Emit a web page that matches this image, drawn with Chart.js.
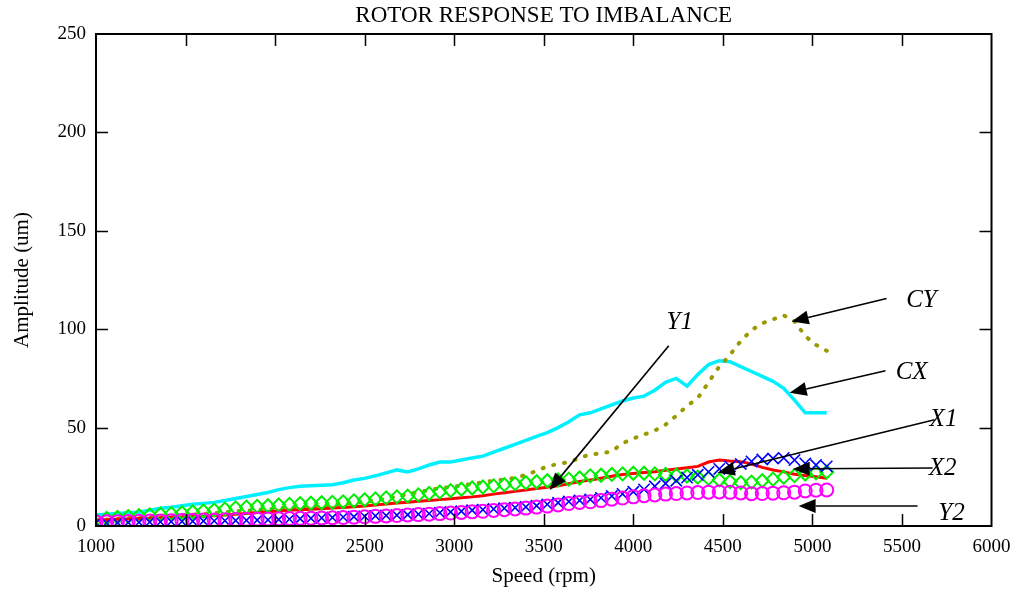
<!DOCTYPE html>
<html>
<head>
<meta charset="utf-8">
<script src="https://cdn.jsdelivr.net/npm/chart.js@4.4.1/dist/chart.umd.min.js"></script>
<style>
html,body{margin:0;padding:0;background:#fff;}
#wrap{width:1020px;height:597px;position:relative;}
</style>
</head>
<body>
<div id="wrap"><canvas id="c" width="1020" height="597"></canvas></div>
<script>
const chartTitle = 'ROTOR RESPONSE TO IMBALANCE';
const xTitle = 'Speed (rpm)';
const yTitle = 'Amplitude (um)';

const speeds = [1000,1060,1120,1180,1240,1300,1360,1420,1480,1540,
1600,1660,1720,1780,1840,1900,1960,2020,2080,2140,
2200,2260,2320,2380,2440,2500,2560,2620,2680,2740,
2800,2860,2920,2980,3040,3100,3160,3220,3280,3340,
3400,3460,3520,3580,3640,3700,3760,3820,3880,3940,
4000,4060,4120,4180,4240,4300,4360,4420,4480,4540,
4600,4660,4720,4780,4840,4900,4960,5020,5080];

const cxValues = [5.6,6,6.3,6.7,7,8,9,9.5,10.3,11,
11.5,12,13,14,15,16,17,18.5,19.5,20.2,
20.4,20.7,21,22,23.4,24.2,25.5,27,28.5,27.5,
29,31,32.5,32.5,33.5,34.6,35.5,37.5,39.5,41.5,
43.5,45.5,47.5,50,53,56.5,57.5,59.5,61.5,63.5,
65,66,69,73,75,71,77,82,84,83.5,
81,78.5,76,73.5,70,64,57.5,57.5,57.5];

const cyValues = [3,3.3,3.7,4,4.3,4.6,4.9,5.2,5.5,5.8,
6.2,6.6,7,7.5,7.8,8.2,8.6,9,9.3,9.7,
10,10.4,10.9,11.3,11.8,12.3,12.8,14,15,16.2,
17.2,18.2,19.2,19.8,20.5,21.4,22.2,23,23.6,24.5,
26,28,30.3,31.5,32.5,34.5,36.5,36.8,38,42,
44.5,46.5,48.5,51.5,56,61,65,73,81,87,
94,99.5,103,105,107,104,96.5,92,89];

const y1Values = [3,3.2,3.4,3.6,3.8,4,4.2,4.4,4.6,4.8,
5,5.3,5.6,6,6.4,6.8,7.2,7.6,8,8.2,
8.5,8.8,9.1,9.4,9.8,10.2,10.7,11.2,11.7,12.1,
12.6,13,13.4,13.9,14.4,14.8,15.4,16.2,16.9,17.6,
18.3,19,19.7,20.4,21.5,22.6,23.4,24.3,25.3,26.2,
26.7,27.2,27.6,28.3,29,29.6,30.3,32.5,33.5,33,
32.7,31.5,29.8,28.5,27.5,26.3,25.6,25,24.3];

const x2Values = [3,3.8,4.3,4.8,5.2,5.6,6,6.3,6.7,7.1,
7.6,8.1,8.6,9.2,9.6,10,10.3,10.7,11,11.4,
11.6,11.8,12,12.3,12.8,13.3,13.8,14.3,14.8,15.2,
15.8,16.5,17.3,18,18.7,19.3,19.8,20.4,21,21.5,
22,22.5,23,23.4,23.8,24.4,25.5,25.8,26.2,26.5,
26.8,26.8,26.5,26.2,25.8,25.4,24.8,24.2,23.4,22.6,
22,22.3,23,23.8,24.8,25.6,26.4,27,27.4];

const x1Values = [1.5,1.6,1.7,1.8,1.9,2,2.1,2.2,2.3,2.4,
2.5,2.6,2.7,2.8,2.9,3,3.1,3.3,3.5,3.7,
3.9,4.1,4.3,4.5,4.7,4.9,5.1,5.3,5.5,5.7,
6,6.3,6.7,7.1,7.5,8,8.3,8.6,9,9.3,
9.7,10.3,11,11.8,12.4,13,13.5,14.3,15.2,16.3,
17.4,18.6,20.2,21.6,23,24.6,26,27.5,29,30.3,
31.5,32.8,33.8,34.3,34.6,33.5,31.8,31,30.3];

const y2Values = [2,2.1,2.2,2.3,2.4,2.5,2.6,2.7,2.8,2.9,
3,3.1,3.2,3.3,3.4,3.5,3.6,3.7,3.8,3.9,
4,4.1,4.2,4.3,4.5,4.7,4.9,5.1,5.3,5.6,
5.8,6,6.3,6.6,6.9,7.2,7.5,7.9,8.3,8.7,
9.1,9.6,10.1,10.7,11.4,12,12.3,12.9,13.6,14.2,
14.8,15.4,15.8,16.2,16.5,16.8,17,17.2,17.3,17.1,
16.8,16.4,16.5,16.7,16.9,17.2,17.8,18.2,18.3];

// annotation labels: [text, textX, textY, lineStartX, lineStartY, tipX, tipY] in data units
const annotations = [
  ['Y1', 4259, 103.4, 4198, 91.6, 3533, 18.3],
  ['CY', 5609, 114.6, 5414, 115.6, 4884, 103.9],
  ['CX', 5554, 77.9, 5408, 78.9, 4873, 67.7],
  ['X1', 5732, 54, 5682, 54, 4471, 27],
  ['X2', 5727, 29.5, 5671, 29.5, 4890, 29],
  ['Y2', 5777, 6.6, 5587, 10.2, 4923, 10.2]
];

const pts = v => speeds.map((s, i) => ({x: s, y: v[i]}));
const FONT = '"Liberation Serif", "Times New Roman", serif';

const framePlugin = {
  id: 'frame',
  afterDraw(chart) {
    const {ctx, chartArea: a, scales} = chart;
    const xs = scales.x, ys = scales.y;
    ctx.save();
    ctx.strokeStyle = '#000';
    ctx.lineWidth = 1.5;
    const tl = 12;
    ctx.beginPath();
    xs.ticks.forEach(t => {
      if (t.value <= xs.min || t.value >= xs.max) return;
      const px = Math.round(xs.getPixelForValue(t.value)) + 0.5;
      ctx.moveTo(px, a.bottom); ctx.lineTo(px, a.bottom - tl);
      ctx.moveTo(px, a.top); ctx.lineTo(px, a.top + tl);
    });
    ys.ticks.forEach(t => {
      if (t.value <= ys.min || t.value >= ys.max) return;
      const py = Math.round(ys.getPixelForValue(t.value)) + 0.5;
      ctx.moveTo(a.left, py); ctx.lineTo(a.left + tl, py);
      ctx.moveTo(a.right, py); ctx.lineTo(a.right - tl, py);
    });
    ctx.stroke();
    ctx.lineWidth = 2;
    ctx.strokeRect(a.left, a.top, a.right - a.left, a.bottom - a.top);

    // title
    ctx.fillStyle = '#000';
    ctx.font = '23px ' + FONT;
    ctx.textAlign = 'center';
    ctx.textBaseline = 'middle';
    ctx.fillText(chartTitle, (a.left + a.right) / 2, 16);

    // annotations
    annotations.forEach(([txt, tx, ty, sx, sy, ex, ey]) => {
      const x0 = xs.getPixelForValue(sx), y0 = ys.getPixelForValue(sy);
      const x1 = xs.getPixelForValue(ex), y1 = ys.getPixelForValue(ey);
      const ang = Math.atan2(y1 - y0, x1 - x0);
      const hl = 17, hw = 7;
      const bx = x1 - hl * Math.cos(ang), by = y1 - hl * Math.sin(ang);
      ctx.strokeStyle = '#000';
      ctx.lineWidth = 1.6;
      ctx.beginPath();
      ctx.moveTo(x0, y0); ctx.lineTo(bx, by);
      ctx.stroke();
      ctx.fillStyle = '#000';
      ctx.beginPath();
      ctx.moveTo(x1, y1);
      ctx.lineTo(bx + hw * Math.sin(ang), by - hw * Math.cos(ang));
      ctx.lineTo(bx - hw * Math.sin(ang), by + hw * Math.cos(ang));
      ctx.closePath();
      ctx.fill();
      ctx.font = 'italic 25px ' + FONT;
      ctx.textAlign = 'center';
      ctx.textBaseline = 'middle';
      ctx.fillText(txt, xs.getPixelForValue(tx), ys.getPixelForValue(ty));
    });
    ctx.restore();
  }
};

new Chart(document.getElementById('c'), {
  type: 'line',
  data: {
    datasets: [
      {label: 'CX', data: pts(cxValues), borderColor: '#00f0ff', borderWidth: 3.5, pointRadius: 0, fill: false, order: 6},
      {label: 'CY', data: pts(cyValues), borderColor: '#999900', borderWidth: 4, borderDash: [1, 10], borderCapStyle: 'round', pointRadius: 0, fill: false, order: 5},
      {label: 'Y1', data: pts(y1Values), borderColor: '#ff0000', borderWidth: 3, pointRadius: 0, fill: false, order: 4},
      {label: 'X2', data: pts(x2Values), showLine: false, pointStyle: 'rectRot', pointRadius: 6.5, pointBorderWidth: 2, pointBorderColor: '#00ee00', pointBackgroundColor: 'rgba(0,0,0,0)', order: 3},
      {label: 'X1', data: pts(x1Values), showLine: false, pointStyle: 'crossRot', pointRadius: 8, pointBorderWidth: 1.6, pointBorderColor: '#0000ff', pointBackgroundColor: 'rgba(0,0,0,0)', order: 2},
      {label: 'Y2', data: pts(y2Values), showLine: false, pointStyle: 'circle', pointRadius: 6.5, pointBorderWidth: 2, pointBorderColor: '#ff00ff', pointBackgroundColor: 'rgba(0,0,0,0)', order: 1}
    ]
  },
  options: {
    responsive: false,
    animation: false,
    events: [],
    layout: {padding: {left: 0, right: 27, top: 34, bottom: 0}},
    plugins: {legend: {display: false}, tooltip: {enabled: false}, title: {display: false}},
    scales: {
      x: {
        type: 'linear', min: 1000, max: 6000,
        grid: {display: false, drawTicks: false},
        border: {display: false},
        ticks: {stepSize: 500, color: '#000', font: {family: FONT, size: 19}, padding: 9.5, maxRotation: 0, autoSkip: false,
                callback: v => String(v)},
        title: {display: true, text: xTitle, color: '#000', font: {family: FONT, size: 21}, padding: {top: 0, bottom: 7.5}},
        afterFit(s) { s.height = 71; }
      },
      y: {
        type: 'linear', min: 0, max: 250,
        grid: {display: false, drawTicks: false},
        border: {display: false},
        ticks: {stepSize: 50, color: '#000', font: {family: FONT, size: 19}, padding: 10, callback: v => String(v)},
        title: {display: true, text: yTitle, color: '#000', font: {family: FONT, size: 21}, padding: {top: 9.5, bottom: 0}},
        afterFit(s) { s.width = 96; }
      }
    }
  },
  plugins: [framePlugin]
});
</script>
</body>
</html>
